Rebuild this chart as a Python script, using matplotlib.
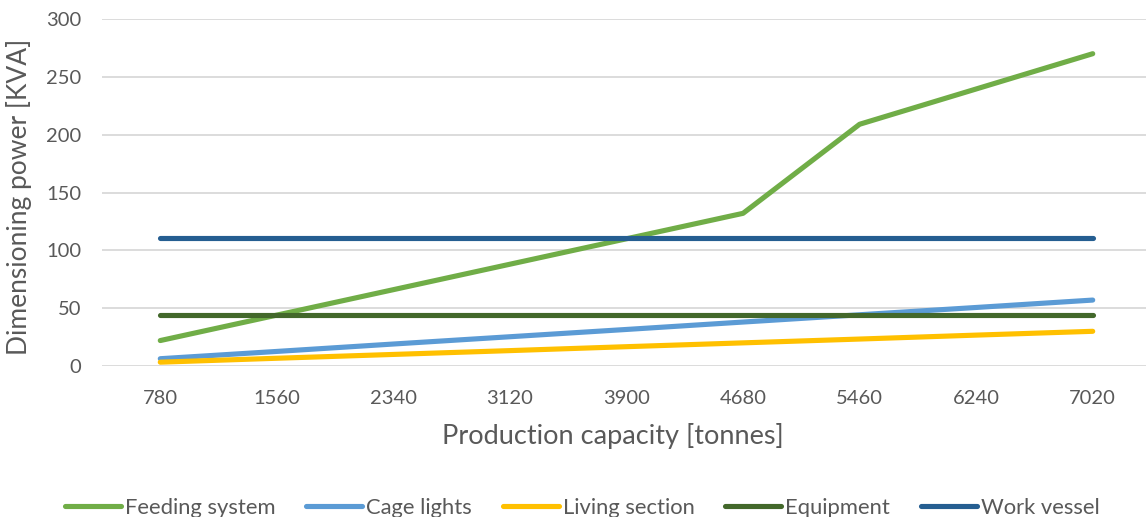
import numpy as np
import matplotlib.pyplot as plt

plt.rcParams['font.family'] = ['Lato', 'DejaVu Sans']

capacity = ['780', '1560', '2340', '3120', '3900', '4680', '5460', '6240', '7020']
feeding_system = [22, 44, 66, 88, 110, 132, 209, 239.5, 270]
cage_lights = [6.3, 12.6, 19, 25.3, 31.6, 38, 44.3, 50.6, 57]
living_section = [3.3, 6.7, 10, 13.3, 16.7, 20, 23.3, 26.7, 30]
equipment = [44.5] * 9
work_vessel = [111] * 9

series = [
    ('Feeding system', feeding_system, '#70AD47'),
    ('Cage lights', cage_lights, '#5B9BD5'),
    ('Living section', living_section, '#FFC000'),
    ('Equipment', equipment, '#43682B'),
    ('Work vessel', work_vessel, '#255E91'),
]

fig = plt.figure(figsize=(11.46, 5.17), dpi=100)
ax = fig.add_axes([102 / 1146, 151 / 517, 1049 / 1146, 347 / 517])

x = np.arange(len(capacity))
for name, vals, col in series:
    ax.plot(x, vals, color=col, lw=3.7, label=name,
            solid_capstyle='round', solid_joinstyle='round')

ax.set_xlim(-0.5, len(capacity) - 0.5)
ax.set_ylim(0, 300)
ax.set_yticks(range(0, 301, 50))
ax.set_xticks(x)
ax.set_xticklabels(capacity)
ax.grid(axis='y', color='#d9d9d9', lw=1.3)
ax.set_axisbelow(True)
for s in ['top', 'right', 'left', 'bottom']:
    ax.spines[s].set_visible(False)
ax.tick_params(length=0, labelsize=14.5, colors='#595959')
ax.tick_params(axis='x', pad=17)
ax.tick_params(axis='y', pad=15)

ax.set_xlabel('Production capacity [tonnes]', fontsize=19.5, color='#595959')
ax.set_ylabel('Dimensioning power [KVA]', fontsize=19, color='#595959')
ax.xaxis.set_label_coords(0.487, -0.165)
ax.yaxis.set_label_coords(-0.067, 0.487)

fig.legend(loc='center', bbox_to_anchor=(0.508, 9 / 517), ncol=5, frameon=False,
           fontsize=15.8, labelcolor='#595959', handlelength=2.55, handletextpad=0.18,
           columnspacing=1.4)

fig.savefig('out.png', dpi=100)
